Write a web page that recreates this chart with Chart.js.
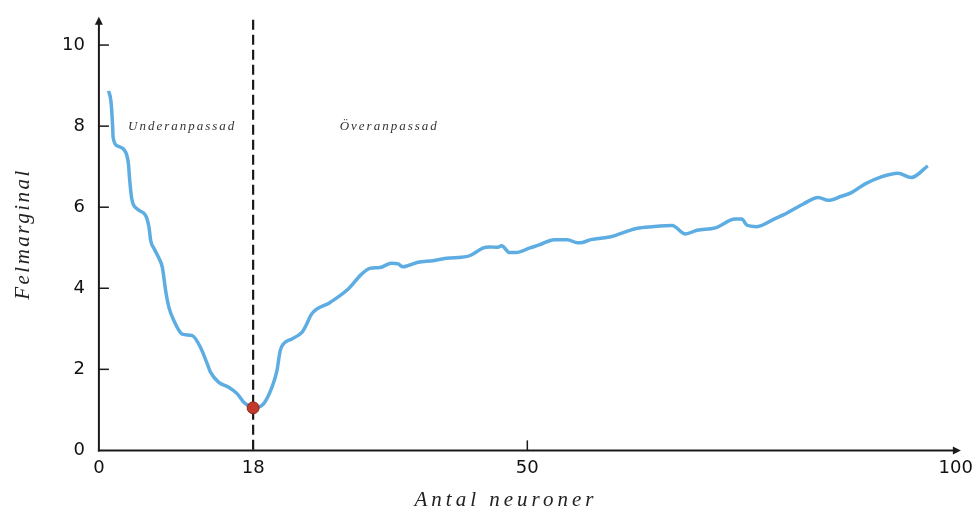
<!DOCTYPE html>
<html>
<head>
<meta charset="utf-8">
<script src="https://cdn.jsdelivr.net/npm/chart.js@4.4.1/dist/chart.umd.min.js"></script>
<style>
html,body{margin:0;padding:0;background:#fff;}
#wrap{width:980px;height:514px;}
</style>
</head>
<body>
<div id="wrap"><canvas id="c" width="980" height="514"></canvas></div>
<script>
// Data
const neurons = [1.13,1.40,1.59,1.66,2.17,3.14,3.45,3.60,3.84,4.50,5.47,5.85,6.05,6.43,7.01,7.41,7.79,8.17,8.76,9.73,10.90,11.86,12.64,13.02,13.99,15.15,16.13,16.90,17.67,18.00,19.22,20.20,20.78,21.16,21.55,22.52,23.69,24.07,24.85,26.98,29.10,30.66,31.63,32.79,34.15,34.92,35.50,36.08,37.24,38.99,40.55,42.87,43.45,44.80,45.58,46.55,47.01,47.91,48.69,50.23,51.40,53.14,54.69,55.85,56.43,57.41,59.73,61.28,62.83,64.57,66.90,68.45,69.80,71.94,74.27,75.03,75.62,76.78,78.92,79.88,82.21,83.95,85.12,86.66,87.83,89.38,91.31,93.26,94.80,96.74];
const errorMargin = [8.87,8.62,8.05,7.72,7.51,7.35,7.06,6.65,6.20,5.95,5.79,5.50,5.17,4.98,4.74,4.51,3.94,3.53,3.20,2.87,2.83,2.54,2.14,1.93,1.68,1.56,1.40,1.19,1.08,1.05,1.15,1.56,1.97,2.46,2.63,2.75,2.91,3.04,3.37,3.65,3.98,4.35,4.49,4.51,4.62,4.60,4.53,4.56,4.64,4.68,4.74,4.78,4.82,4.99,5.02,5.01,5.05,4.88,4.88,4.99,5.07,5.20,5.20,5.12,5.13,5.20,5.27,5.38,5.48,5.52,5.55,5.34,5.43,5.49,5.71,5.71,5.56,5.52,5.72,5.81,6.08,6.24,6.17,6.27,6.36,6.57,6.75,6.84,6.73,7.02];
const optimumX = [18];
const optimumY = [1.05];
const xTickValues = [0, 18, 50, 100];
const yTickValues = [0, 2, 4, 6, 8, 10];
const regionLabels = ["Underanpassad", "Överanpassad"];
const regionLabelX = [3.4, 28.1];
const regionLabelY = [8.0, 8.0];
const xTitle = "Antal neuroner";
const yTitle = "Felmarginal";

const curve = neurons.map((x, i) => ({x: x, y: errorMargin[i]}));
const optimum = optimumX.map((x, i) => ({x: x, y: optimumY[i]}));

const tickFont = {family: "'DejaVu Sans', sans-serif", size: 18};
const yArrowValue = 10.7;

const decorPlugin = {
  id: 'decor',
  beforeDatasetsDraw(chart) {
    const ctx = chart.ctx;
    const xs = chart.scales.x, ys = chart.scales.y;
    const x0 = xs.getPixelForValue(0);
    const y0 = ys.getPixelForValue(0);
    const top = ys.getPixelForValue(yArrowValue);
    const right = xs.getPixelForValue(xs.max);
    ctx.save();
    ctx.strokeStyle = '#1a1a1a';
    ctx.fillStyle = '#1a1a1a';
    ctx.lineWidth = 2;
    // y axis
    ctx.beginPath(); ctx.moveTo(x0, y0 + 1); ctx.lineTo(x0, top + 6); ctx.stroke();
    ctx.beginPath(); ctx.moveTo(x0, top); ctx.lineTo(x0 - 4, top + 8); ctx.lineTo(x0 + 4, top + 8); ctx.closePath(); ctx.fill();
    // x axis
    ctx.beginPath(); ctx.moveTo(x0 - 1, y0); ctx.lineTo(right - 6, y0); ctx.stroke();
    ctx.beginPath(); ctx.moveTo(right, y0); ctx.lineTo(right - 8, y0 - 4); ctx.lineTo(right - 8, y0 + 4); ctx.closePath(); ctx.fill();
    // y tick marks (inside)
    ctx.lineWidth = 1.5;
    yTickValues.forEach(v => {
      if (v === 0) return;
      const py = ys.getPixelForValue(v);
      ctx.beginPath(); ctx.moveTo(x0, py); ctx.lineTo(x0 + 10, py); ctx.stroke();
    });
    // x tick mark at 50
    const p50 = xs.getPixelForValue(50);
    ctx.beginPath(); ctx.moveTo(p50, y0); ctx.lineTo(p50, y0 - 10); ctx.stroke();
    // dashed line at optimum
    const pd = xs.getPixelForValue(optimumX[0]);
    ctx.setLineDash([10, 5]);
    ctx.lineWidth = 2.2;
    ctx.beginPath(); ctx.moveTo(pd, top + 3); ctx.lineTo(pd, y0); ctx.stroke();
    ctx.setLineDash([]);
    // region labels
    ctx.fillStyle = '#333';
    ctx.font = "italic 13px 'Liberation Serif', serif";
    ctx.letterSpacing = '2px';
    ctx.textBaseline = 'middle';
    ctx.textAlign = 'left';
    regionLabels.forEach((t, i) => {
      ctx.fillText(t, xs.getPixelForValue(regionLabelX[i]), ys.getPixelForValue(regionLabelY[i]));
    });
    // axis titles
    ctx.fillStyle = '#222';
    ctx.font = "italic 21px 'Liberation Serif', serif";
    ctx.letterSpacing = '4px';
    ctx.textAlign = 'center';
    ctx.fillText(xTitle, 506, 500);
    ctx.letterSpacing = '2.5px';
    ctx.save();
    ctx.translate(23, 234);
    ctx.rotate(-Math.PI / 2);
    ctx.fillText(yTitle, 0, 0);
    ctx.restore();
    ctx.restore();
  }
};

new Chart(document.getElementById('c'), {
  type: 'scatter',
  data: {
    datasets: [
      {
        data: optimum,
        pointRadius: 6,
        pointBackgroundColor: '#c0392b',
        pointBorderColor: '#8e2a20',
        pointBorderWidth: 1,
        showLine: false,
        order: 0
      },
      {
        data: curve,
        showLine: true,
        borderColor: '#5dade2',
        borderWidth: 3.5,
        pointRadius: 0,
        tension: 0.4,
        cubicInterpolationMode: 'monotone',
        fill: false,
        order: 1
      }
    ]
  },
  options: {
    responsive: false,
    animation: false,
    devicePixelRatio: 1,
    layout: {padding: {left: 48, right: 14, top: 3, bottom: 28}},
    plugins: {legend: {display: false}, tooltip: {enabled: false}},
    scales: {
      x: {
        type: 'linear', min: 0, max: 100.6,
        grid: {display: false, drawTicks: false},
        border: {display: false},
        afterBuildTicks: (s) => { s.ticks = xTickValues.map(v => ({value: v})); },
        ticks: {color: '#111', font: tickFont, padding: 7, maxRotation: 0, autoSkip: false, callback: (v) => String(v)}
      },
      y: {
        type: 'linear', min: 0, max: 10.5,
        grid: {display: false, drawTicks: false},
        border: {display: false},
        afterBuildTicks: (s) => { s.ticks = yTickValues.map(v => ({value: v})); },
        ticks: {color: '#111', font: tickFont, padding: 14, autoSkip: false, callback: (v) => String(v)}
      }
    }
  },
  plugins: [decorPlugin]
});
</script>
</body>
</html>
